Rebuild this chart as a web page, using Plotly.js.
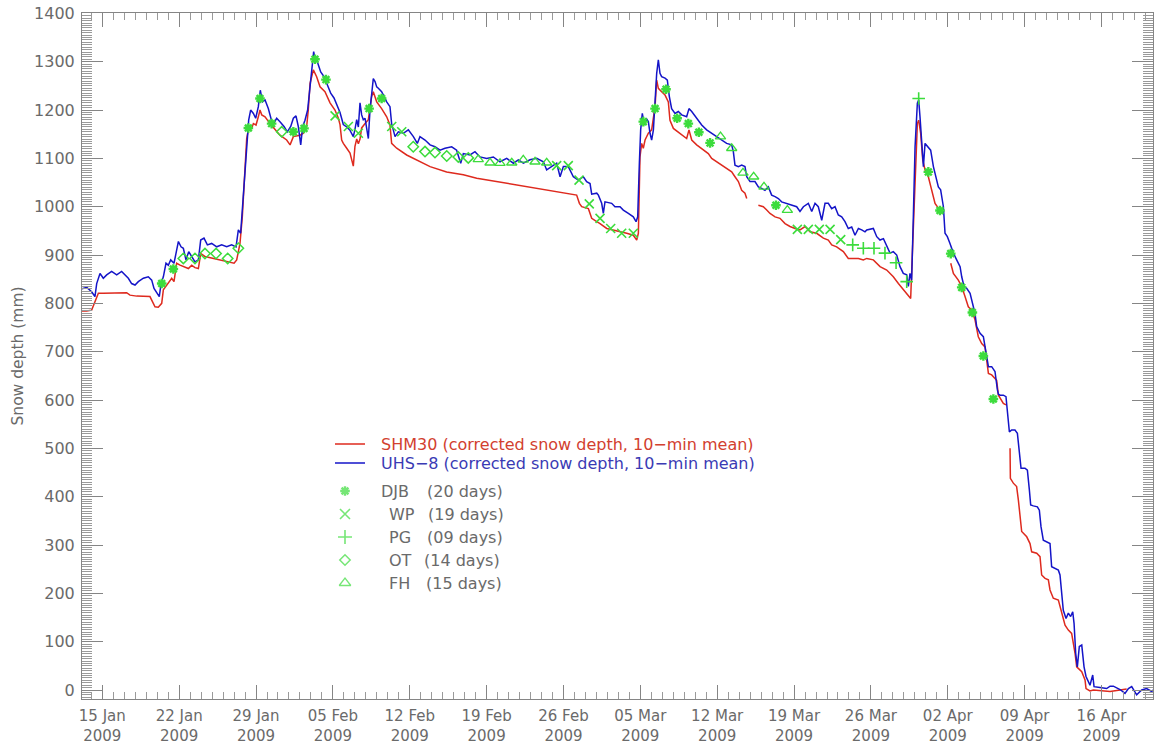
<!DOCTYPE html>
<html>
<head>
<meta charset="utf-8">
<script src="https://cdn.plot.ly/plotly-3.0.1.min.js"></script>
<style>html,body{margin:0;padding:0;background:#fff;}#chart{width:1155px;height:745px;}</style>
</head>
<body>
<div id="chart"></div>
<script>
// Time axis values are fractional day-of-year 2009 (15.0 = 15 Jan 00:00)
const shm30Day = [12.97,13.58,14.03,14.33,14.64,15.09,16.00,17.22,17.52,18.13,19.34,19.59,19.80,20.10,20.41,20.56,21.01,21.32,21.53,21.77,22.08,22.53,22.84,23.14,23.44,23.75,23.96,24.35,25.11,26.02,27.00,27.24,27.54,27.75,27.94,28.15,28.36,28.60,28.76,29.00,29.21,29.36,29.52,29.82,30.27,30.73,31.18,31.79,32.10,32.40,33.00,33.31,33.61,33.76,33.92,34.22,34.52,34.83,35.28,35.74,36.19,36.50,36.65,36.80,36.95,37.26,37.56,37.86,38.01,38.17,38.32,38.47,38.62,38.93,39.23,39.53,39.68,39.99,40.44,40.90,41.20,41.35,41.81,42.72,43.93,44.85,46.36,47.88,49.10,50.92,52.74,54.56,56.38,58.20,58.45,58.66,59.27,59.57,60.03,60.33,60.94,61.54,62.15,62.76,63.36,63.67,63.82,63.97,64.12,64.27,64.43,64.58,64.73,65.03,65.34,65.49,65.64,65.94,66.25,66.55,66.70,67.01,67.61,68.22,68.43,68.68,69.13,69.74,70.19,70.50,70.95,71.41,71.86,72.32,72.62,72.93,73.23,73.53,73.69,null,74.75,75.20,75.51,75.81,76.27,76.72,77.18,77.63,78.09,78.54,79.00,79.45,80.06,80.67,81.12,81.43,81.88,82.49,82.94,83.40,83.86,84.31,84.62,85.22,85.83,86.44,87.04,87.50,87.95,88.41,88.62,88.80,89.02,89.23,89.35,89.53,89.72,89.93,90.23,90.53,90.84,91.14,91.45,null,92.27,92.51,92.96,93.27,93.57,93.87,94.18,94.48,94.78,95.09,95.39,95.70,96.00,96.45,96.61,97.06,97.30,null,97.67,97.70,97.97,98.27,98.43,98.58,98.73,99.19,99.49,99.64,100.10,100.40,100.55,100.86,101.16,101.31,101.61,102.07,102.37,102.68,102.98,103.28,103.59,103.74,104.20,104.50,104.59,104.95,105.26,105.86,106.78,107.69,108.29];
const shm30Depth = [784,784,786,803,821,821,821,822,817,815,814,803,793,792,800,828,841,852,845,883,879,874,872,879,874,872,903,897,893,888,883,890,924,979,1069,1141,1166,1162,1172,1169,1186,1200,1190,1186,1172,1159,1148,1138,1128,1145,1148,1152,1166,1200,1255,1283,1269,1248,1238,1215,1200,1183,1170,1138,1131,1121,1111,1084,1125,1140,1130,1140,1163,1172,1180,1228,1238,1217,1203,1186,1169,1131,1121,1107,1093,1083,1072,1066,1059,1052,1045,1038,1031,1024,1007,1000,996,976,969,965,955,952,948,945,941,931,945,1103,1131,1121,1138,1145,1152,1159,1207,1262,1245,1238,1231,1217,1179,1162,1152,1141,1159,1138,1128,1117,1110,1100,1093,1086,1079,1072,1062,1052,1034,1028,1017,null,1003,1000,993,986,979,976,965,959,955,952,959,948,945,935,931,921,917,907,893,893,893,890,893,890,876,869,855,841,828,817,810,917,1055,1172,1179,1152,1097,1076,1062,1035,1007,997,986,null,883,862,848,835,814,793,786,766,731,717,710,655,652,641,610,593,590,null,500,438,428,421,393,352,328,317,303,286,283,276,238,231,228,207,190,186,162,134,124,117,76,48,38,21,3,-2,0,-1,-3,0,2];

const uhs8Day = [12.97,13.58,14.03,14.33,14.49,14.79,15.09,15.40,15.85,16.31,16.76,17.07,17.37,17.67,17.98,18.28,18.74,19.19,19.50,19.71,20.01,20.19,20.35,20.56,20.80,21.01,21.23,21.53,21.77,21.93,22.17,22.38,22.62,22.87,23.14,23.44,23.75,23.96,24.26,24.57,24.96,25.42,25.87,26.33,26.78,27.18,27.39,27.60,27.75,27.94,28.15,28.33,28.51,28.76,28.97,29.21,29.39,29.58,29.82,30.12,30.52,30.88,31.18,31.55,31.85,32.16,32.40,32.64,32.85,33.07,33.25,33.46,33.70,33.92,34.10,34.25,34.40,34.58,34.89,35.19,35.50,35.80,36.10,36.40,36.65,36.95,37.26,37.56,37.86,38.01,38.17,38.32,38.47,38.62,38.77,38.93,39.08,39.23,39.38,39.53,39.68,39.84,39.99,40.14,40.44,40.60,40.90,41.20,41.35,41.50,41.66,41.96,42.42,42.87,43.33,43.69,43.93,44.39,44.85,45.30,45.76,46.21,46.82,47.27,47.64,47.88,48.49,48.94,49.40,50.01,50.61,51.22,51.83,52.44,52.89,53.35,53.95,54.56,55.17,55.47,55.93,56.38,56.69,56.99,57.44,57.90,58.35,58.81,59.11,59.42,59.57,60.03,60.18,60.48,60.63,60.78,61.39,61.69,62.15,62.45,62.91,63.36,63.61,63.76,63.91,64.03,64.18,64.37,64.52,64.73,64.88,65.03,65.19,65.34,65.49,65.64,65.79,65.94,66.25,66.46,66.64,66.85,67.16,67.46,67.77,68.22,68.43,68.68,69.13,69.59,70.04,70.50,70.95,71.41,71.86,72.32,72.47,72.62,72.93,73.23,73.53,73.69,73.99,74.44,74.75,75.05,75.35,75.66,75.96,76.27,76.57,76.87,77.33,77.78,78.24,78.54,78.85,79.30,79.61,79.91,80.21,80.52,80.82,81.12,81.43,81.73,82.03,82.34,82.64,82.94,83.25,83.55,83.86,84.16,84.46,84.62,85.22,85.53,85.83,86.14,86.44,86.74,87.04,87.35,87.65,87.95,88.26,88.41,88.56,88.71,88.87,89.02,89.23,89.35,89.47,89.62,89.78,89.93,90.23,90.44,90.69,90.93,91.14,91.35,91.60,91.75,91.96,92.20,92.51,92.81,93.12,93.27,93.48,93.72,94.03,94.33,94.48,94.63,94.94,95.24,95.39,95.54,95.70,96.00,96.30,96.52,96.61,96.76,97.06,97.30,97.43,97.61,97.82,98.12,98.34,98.52,98.67,99.03,99.25,99.43,99.55,99.79,100.16,100.34,100.49,100.70,101.01,101.31,101.46,101.68,102.07,102.22,102.37,102.52,102.77,102.98,103.19,103.38,103.50,103.65,103.80,103.98,104.20,104.41,104.59,104.71,104.95,105.20,105.32,105.86,106.47,106.78,107.08,107.69,108.14,108.45,108.75,109.20,109.66,110.11,110.57,110.87];
const uhs8Depth = [829,833,824,814,841,862,852,859,866,859,866,859,852,841,838,845,852,855,848,831,821,814,841,855,883,879,890,883,910,928,917,914,890,907,897,886,890,931,935,921,924,917,921,917,921,917,952,945,993,1062,1138,1179,1200,1193,1183,1207,1241,1217,1221,1203,1169,1183,1176,1166,1155,1166,1183,1188,1166,1128,1166,1179,1200,1255,1290,1321,1303,1300,1279,1269,1252,1235,1225,1210,1195,1170,1165,1158,1145,1160,1180,1165,1215,1190,1180,1183,1160,1141,1200,1241,1265,1259,1248,1245,1238,1231,1217,1207,1172,1159,1145,1155,1152,1159,1145,1131,1145,1138,1128,1124,1117,1121,1124,1117,1090,1110,1107,1114,1103,1100,1103,1093,1100,1090,1097,1090,1097,1100,1093,1076,1083,1090,1062,1083,1083,1062,1055,1062,1052,1048,1026,1028,1024,1007,986,1010,1007,1000,1000,993,986,979,969,979,1090,1159,1193,1169,1183,1176,1152,1138,1159,1228,1276,1304,1276,1269,1266,1262,1228,1203,1193,1197,1190,1186,1203,1197,1183,1169,1159,1152,1145,1138,1131,1128,1114,1086,1083,1086,1083,1062,1052,1052,1041,1038,1034,1041,1024,1021,1017,1010,1007,1003,1000,990,1000,1007,990,1007,1000,972,1007,1007,996,1000,983,979,969,955,958,941,955,952,948,952,955,938,931,934,917,904,907,900,876,862,859,835,862,848,986,1124,1214,1221,1186,1145,1083,1131,1124,1117,1083,1062,1041,1035,1000,945,938,924,904,890,876,855,835,831,821,793,779,752,738,731,710,690,669,669,659,621,612,610,610,607,572,534,538,538,531,483,459,459,455,414,383,381,379,372,338,310,307,303,255,252,248,238,200,165,148,159,152,162,138,76,48,90,93,48,28,21,10,31,7,5,3,8,8,1,-7,3,7,-10,0,3,-3,3];

const djbDay = [20.41,21.47,28.30,29.36,30.42,32.40,33.37,34.37,35.37,39.30,40.44,64.27,65.34,66.34,67.35,68.37,69.33,70.35,76.35,90.23,91.29,92.27,93.27,94.24,95.24,96.15];
const djbDepth = [841,871,1163,1224,1172,1155,1162,1305,1263,1203,1224,1176,1203,1243,1183,1172,1154,1132,1003,1072,992,903,833,781,691,602];
const wpDay = [36.20,37.41,38.32,41.36,42.27,56.38,57.44,58.42,59.35,60.33,61.30,62.30,63.36,78.30,79.30,80.30,81.28,82.25];
const wpDepth = [1188,1166,1152,1166,1155,1085,1085,1055,1006,976,955,945,945,953,953,953,953,932];
const pgDay = [83.34,84.31,85.28,86.28,87.29,88.26,89.35];
const pgDepth = [921,914,914,904,884,845,1224];
const otDay = [22.38,23.44,24.35,25.36,26.42,27.39,31.34,43.32,44.39,45.30,46.37,47.42,48.33];
const otDepth = [893,893,903,903,893,914,1155,1124,1114,1112,1105,1103,1101];
const fhDay = [49.24,50.31,51.22,52.29,53.34,54.41,55.47,71.30,72.32,73.35,74.32,75.26,77.39];
const fhDepth = [1098,1091,1090,1091,1097,1093,1091,1145,1121,1070,1062,1041,993];

const legendLines = ["SHM30 (corrected snow depth, 10\u2212min mean)", "UHS\u22128 (corrected snow depth, 10\u2212min mean)"];
const legendNames = ["DJB", "WP", "PG", "OT", "FH"];
const legendDays = ["(20 days)", "(19 days)", "(09 days)", "(14 days)", "(15 days)"];

const DAY = 86400000;
const T0 = Date.UTC(2009, 0, 1);
const toMs = d => (d === null ? null : T0 + (d - 1) * DAY);

const RED = '#de2a1e', BLUE = '#1414c8', GREEN = '#3cdc3c';
const AX = '#858585', MINOR = '#9a9a9a', TXT = '#6a6a6a';
const FONT = 'DejaVu Sans';

const traces = [
  {x: shm30Day.map(toMs), y: shm30Depth, type: 'scatter', mode: 'lines', connectgaps: false,
   line: {color: RED, width: 1.5}, hoverinfo: 'skip'},
  {x: uhs8Day.map(toMs), y: uhs8Depth, type: 'scatter', mode: 'lines', connectgaps: false,
   line: {color: BLUE, width: 1.5}, hoverinfo: 'skip'},
  {x: otDay.map(toMs), y: otDepth, type: 'scatter', mode: 'markers',
   marker: {symbol: 'diamond-open', size: 8, color: GREEN, line: {color: GREEN, width: 1.5}}},
  {x: fhDay.map(toMs), y: fhDepth, type: 'scatter', mode: 'markers',
   marker: {symbol: 'triangle-up-open', size: 9, color: GREEN, line: {color: GREEN, width: 1.3}}},
  {x: wpDay.map(toMs), y: wpDepth, type: 'scatter', mode: 'markers',
   marker: {symbol: 'x-thin-open', size: 9, color: GREEN, line: {color: GREEN, width: 1.6}}},
  {x: pgDay.map(toMs), y: pgDepth, type: 'scatter', mode: 'markers',
   marker: {symbol: 'cross-thin-open', size: 9, color: GREEN, line: {color: GREEN, width: 1.6}}},
  {x: djbDay.map(toMs), y: djbDepth, type: 'scatter', mode: 'markers',
   marker: {symbol: 'asterisk-open', size: 8, color: GREEN, line: {color: GREEN, width: 2.4}}}
];

// legend sample marks drawn on a hidden pixel-coordinate overlay (x3/y3)
const legMarkX = [345, 345, 345, 345, 345];
const legMarkY = [491, 514, 537, 560, 583];
traces.push({
  x: legMarkX, y: legMarkY, xaxis: 'x3', yaxis: 'y3', type: 'scatter', mode: 'markers', hoverinfo: 'skip',
  marker: {symbol: ['asterisk-open', 'x-thin-open', 'cross-thin-open', 'diamond-open', 'triangle-up-open'],
           size: [8, 10, 10, 8, 10], color: GREEN, line: {color: GREEN, width: [2.4, 1.6, 1.6, 1.5, 1.3]}}
});

const annotations = [];
const shapes = [];
const legLineY = [444, 463];
const legColors = [RED, BLUE];
const legTextColors = ['#d2402f', '#3a3ab4'];
legendLines.forEach((t, i) => {
  shapes.push({type: 'line', xref: 'x3', yref: 'y3', x0: 335, x1: 365, y0: legLineY[i], y1: legLineY[i],
               line: {color: legColors[i], width: 1.5}});
  annotations.push({xref: 'x3', yref: 'y3', x: 379, y: legLineY[i], text: t, showarrow: false,
                    xanchor: 'left', yanchor: 'middle', font: {family: FONT, size: 16, color: legTextColors[i]}});
});
const nameX = [379, 387, 387, 387, 387];
const daysX = [425, 426, 425, 422, 424];
legendNames.forEach((n, i) => {
  annotations.push({xref: 'x3', yref: 'y3', x: nameX[i], y: legMarkY[i], text: n, showarrow: false,
                    xanchor: 'left', yanchor: 'middle', font: {family: FONT, size: 16, color: TXT}});
  annotations.push({xref: 'x3', yref: 'y3', x: daysX[i], y: legMarkY[i], text: legendDays[i], showarrow: false,
                    xanchor: 'left', yanchor: 'middle', font: {family: FONT, size: 16, color: TXT}});
});
annotations.push({xref: 'paper', yref: 'paper', x: -0.0602, y: 0.5, text: 'Snow depth (mm)', textangle: -90,
                  showarrow: false, xanchor: 'center', yanchor: 'middle', font: {family: FONT, size: 15.5, color: TXT}});

const layout = {
  width: 1155, height: 745,
  margin: {l: 82, r: 2, t: 13, b: 46, pad: 0},
  paper_bgcolor: '#ffffff', plot_bgcolor: '#ffffff',
  showlegend: false,
  font: {family: FONT, size: 15, color: TXT},
  xaxis: {
    type: 'date', range: [toMs(13.151), toMs(110.69)],
    tickmode: 'linear', tick0: toMs(15), dtick: 7 * DAY, tickformat: '%d %b<br>%Y',
    ticks: 'inside', ticklen: 14, tickwidth: 1, tickcolor: AX,
    showline: true, linecolor: AX, linewidth: 1, mirror: 'allticks',
    showgrid: false, zeroline: false, automargin: false,
    tickfont: {family: FONT, size: 15, color: TXT}, ticklabelstandoff: 3,
    minor: {tickmode: 'linear', tick0: toMs(15), dtick: DAY, ticks: 'inside', ticklen: 7, tickwidth: 1, tickcolor: MINOR, showgrid: false}
  },
  yaxis: {
    range: [-18.6, 1400.8], tickmode: 'linear', tick0: 0, dtick: 100,
    ticks: 'inside', ticklen: 21, tickwidth: 1, tickcolor: AX,
    showline: true, linecolor: AX, linewidth: 1, mirror: 'allticks',
    showgrid: false, zeroline: false, automargin: false,
    tickfont: {family: FONT, size: 16, color: TXT}, ticklabelstandoff: 3,
    minor: {tickmode: 'linear', tick0: 0, dtick: 5, ticks: 'inside', ticklen: 10, tickwidth: 1, tickcolor: MINOR, showgrid: false}
  },
  xaxis3: {overlaying: 'x', anchor: 'y3', range: [82, 1153], visible: false, fixedrange: true},
  yaxis3: {overlaying: 'y', anchor: 'x3', range: [699, 13], visible: false, fixedrange: true},
  annotations: annotations,
  shapes: shapes
};

Plotly.newPlot('chart', traces, layout, {staticPlot: true, displayModeBar: false});
</script>
</body>
</html>
